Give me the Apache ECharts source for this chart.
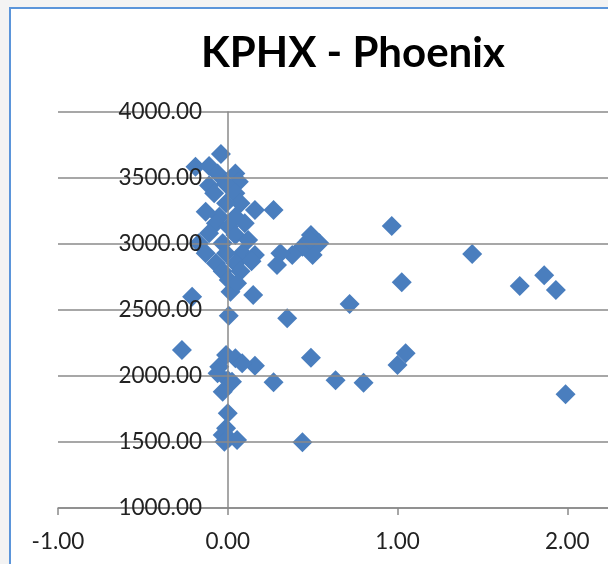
<!DOCTYPE html>
<html>
<head>
<meta charset="utf-8">
<script src="https://cdn.jsdelivr.net/npm/echarts@6/dist/echarts.min.js"></script>
<style>
html,body{margin:0;padding:0;background:#f3f3f3;}
#c{width:608px;height:564px;}
</style>
</head>
<body>
<div id="c"></div>
<script>
const chartTitle = "KPHX - Phoenix";
const xTickValues = [-1, 0, 1, 2];
const xRange = { min: -1, max: 2.24 };
const yTicks = { min: 1000, max: 4000, interval: 500 };

// x values
const xValues = [
  0.966, 0.49, 0.54, 0.50, 0.44, 0.48,
  1.44, 1.025, 0.718, 1.72, 1.864, 1.933,
  0.35, 0.49, 0.635, 0.80, 1.0, 1.048, 1.99,
  0.27, 0.16, 0.27, 0.38, 0.31, 0.29,
  0.15, 0.016, -0.21, 0.006, -0.27, 0.16, 0.44,
  -0.05, -0.01, 0.045, 0.085, -0.06, 0.0, 0.025, -0.03,
  0.0, -0.01, -0.03, 0.006, 0.055, -0.02,
  -0.04, -0.19, -0.11, -0.06, 0.045, 0.065, -0.11, -0.01,
  -0.08, 0.045, 0.075, -0.01, -0.13, -0.05, 0.045, -0.07,
  0.10, 0.006, -0.11, 0.045, -0.17, -0.03, 0.12, -0.13,
  0.085, -0.01, 0.16, -0.07, 0.045, 0.14, -0.03, 0.075,
  0.006, 0.055
];
// y values
const yValues = [
  3136, 3068, 3005, 2917, 2980, 3030,
  2924, 2710, 2545, 2682, 2763, 2652,
  2437, 2139, 1967, 1949, 2083, 2172, 1861,
  3258, 3258, 1952, 2917, 2930, 2841,
  2614, 2639, 2601, 2457, 2197, 2078, 1498,
  2070, 2159, 2134, 2096, 2020, 1970, 1957, 1881,
  1717, 1604, 1553, 1528, 1515, 1502,
  3682, 3585, 3591, 3535, 3535, 3472, 3444, 3455,
  3384, 3384, 3308, 3308, 3245, 3207, 3207, 3157,
  3157, 3131, 3081, 3068, 3005, 3005, 3030, 2930,
  2930, 2930, 2917, 2854, 2854, 2870, 2794, 2794,
  2727, 2702
];

const points = xValues.map((x, i) => [x, yValues[i]]);

const labelFont = 'Lato, "Open Sans", sans-serif';
const gridColor = '#8a8a8a';
const gridLeft = 58, gridRight = 0;
const plotWidth = 608 - gridLeft - gridRight;
// pixel shift that puts the vertical axis on x = 0
const yAxisShift = -Math.round((0 - xRange.min) / (xRange.max - xRange.min) * plotWidth);

const chart = echarts.init(document.getElementById('c'), null, { renderer: 'canvas' });
chart.setOption({
  backgroundColor: '#f3f3f3',
  animation: false,
  graphic: [{
    type: 'rect',
    z: -10,
    shape: { x: 10, y: 8, width: 800, height: 800 },
    style: { fill: '#ffffff', stroke: '#5b95da', lineWidth: 2 }
  }],
  title: {
    text: chartTitle,
    left: 196,
    top: 27,
    textStyle: { fontFamily: labelFont, fontWeight: 'bold', fontSize: 42, color: '#000' }
  },
  grid: { left: gridLeft, top: 112, bottom: 56, right: gridRight, containLabel: false, outerBoundsMode: 'none' },
  xAxis: {
    type: 'value',
    min: xRange.min, max: xRange.max,
    axisLine: { show: true, onZero: false, lineStyle: { color: gridColor, width: 1.5 } },
    axisTick: { show: true, length: 7, customValues: xTickValues, lineStyle: { color: gridColor, width: 1.5 } },
    splitLine: { show: false },
    axisLabel: {
      margin: 22,
      customValues: xTickValues,
      fontFamily: labelFont, fontSize: 22.5, color: '#222',
      formatter: v => v.toFixed(2)
    }
  },
  yAxis: {
    type: 'value',
    position: 'left',
    offset: yAxisShift,
    z: 5,
    min: yTicks.min, max: yTicks.max, interval: yTicks.interval,
    axisLine: { show: true, onZero: false, lineStyle: { color: gridColor, width: 1.5 } },
    axisTick: { show: false },
    splitLine: { show: true, lineStyle: { color: gridColor, width: 1.5 } },
    axisLabel: {
      margin: 26,
      fontFamily: labelFont, fontSize: 22.5, color: '#222',
      formatter: v => v.toFixed(2)
    }
  },
  series: [{
    type: 'scatter',
    symbol: 'diamond',
    symbolSize: 20,
    itemStyle: { color: '#4a7ebe', opacity: 1 },
    data: points,
    z: 3
  }]
});
</script>
</body>
</html>
